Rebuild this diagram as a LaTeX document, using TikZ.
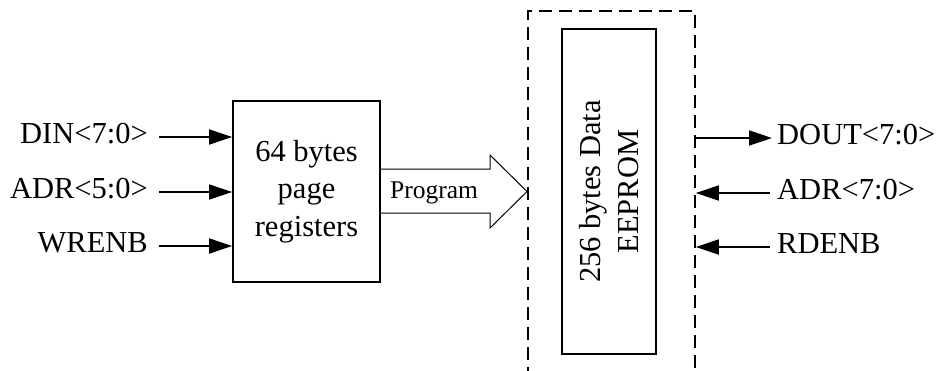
\documentclass[tikz,border=0pt]{standalone}
\usepackage{fontspec}
\setmainfont{Liberation Serif}
\usetikzlibrary{arrows.meta}
\begin{document}
\begin{tikzpicture}[x=1pt,y=-1pt,
  lbl/.style={inner sep=0pt, font=\fontsize{30.5}{37.5}\selectfont},
  blk/.style={draw, line width=1.8pt, inner sep=0pt, align=center, font=\fontsize{30.5}{37.5}\selectfont},
  sig/.style={line width=1.8pt, -{Triangle[length=23pt,width=15pt]}},
  dbox/.style={draw, line width=1.8pt, dash pattern=on 13pt off 7pt, inner sep=0pt},
  fat/.style={draw, line width=1pt, line join=miter}]
\useasboundingbox (0,0) rectangle (939,370);
\clip (0,0) rectangle (939,370);
% blocks
\node[blk, minimum width=147pt, minimum height=181pt] (pr) at (306.5,191.5) {64 bytes\\page\\registers};
\node[dbox, minimum width=167pt, minimum height=390pt, anchor=north west] (dash) at (527,10) {};
\node[blk, minimum width=325pt, minimum height=94pt, rotate=90] (ee) at (609,191.5) {256 bytes Data\\EEPROM};
% left labels
\node[lbl, anchor=base east] (din) at (148,143) {DIN<7:0>};
\node[lbl, anchor=base east] (adrl) at (148,198) {ADR<5:0>};
\node[lbl, anchor=base east] (wr) at (148,252) {WRENB};
% right labels
\node[lbl, anchor=base west] (dout) at (777,144) {DOUT<7:0>};
\node[lbl, anchor=base west] (adrr) at (777,199) {ADR<7:0>};
\node[lbl, anchor=base west] (rd) at (777,253) {RDENB};
% input arrows
\draw[sig] ([xshift=11pt,yshift=6pt]din.base east) -- ([yshift=6pt]din.base east -| pr.west);
\draw[sig] ([xshift=11pt,yshift=6pt]adrl.base east) -- ([yshift=6pt]adrl.base east -| pr.west);
\draw[sig] ([xshift=11pt,yshift=6pt]wr.base east) -- ([yshift=6pt]wr.base east -| pr.west);
% output / right arrows
\draw[sig] ([yshift=6pt]dout.base west -| dash.east) -- ([xshift=-5pt,yshift=6pt]dout.base west);
\draw[sig] ([xshift=-7pt,yshift=6pt]adrr.base west) -- ([yshift=6pt]adrr.base west -| dash.east);
\draw[sig] ([xshift=-7pt,yshift=6pt]rd.base west) -- ([yshift=6pt]rd.base west -| dash.east);
% program fat arrow
\coordinate (tip) at (dash.west |- pr.east);
\draw[fat] (pr.east |- 0,169) -- (490,169) -- (490,155) -- (tip) -- (490,228) -- (490,213) -- (pr.east |- 0,213);
\node[inner sep=0pt, anchor=base, font=\fontsize{25.5}{30}\selectfont] (prog) at (434,198) {Program};
\end{tikzpicture}
\end{document}
